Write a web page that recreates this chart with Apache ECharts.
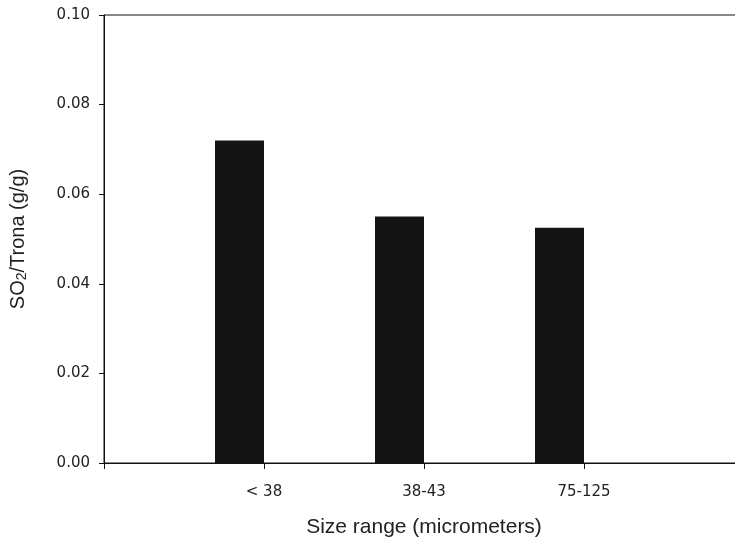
<!DOCTYPE html>
<html>
<head>
<meta charset="utf-8">
<script src="https://cdn.jsdelivr.net/npm/echarts@6/dist/echarts.min.js"></script>
<style>html,body{margin:0;padding:0;background:#fff;}#c{width:735px;height:540px;}</style>
</head>
<body>
<div id="c"></div>
<script>
var categories = ['< 38', '38-43', '75-125'];
var values = [0.072, 0.055, 0.0525];
var yTicks = [0, 0.02, 0.04, 0.06, 0.08, 0.10];

// pad with empty slots at both ends so the category ticks fall where the reference has them
var axisCats = [''].concat(categories).concat(['']);
var barData = ['-'].concat(values).concat(['-']);
var emptyData = axisCats.map(function(){ return '-'; });

var chart = echarts.init(document.getElementById('c'), null, {renderer: 'canvas'});
var font = '"Liberation Sans", Arial, sans-serif';
var tickFont = '"DejaVu Sans", sans-serif';
chart.setOption({
  animation: false,
  backgroundColor: '#fff',
  grid: {left: 104, top: 15, right: -9, bottom: 77, outerBoundsMode: 'none', containLabel: false,
         show: true, borderColor: '#111', borderWidth: 1, backgroundColor: 'transparent'},
  xAxis: {
    type: 'category',
    data: axisCats,
    boundaryGap: false,
    name: 'Size range (micrometers)',
    nameLocation: 'middle',
    nameGap: 54,
    nameTextStyle: {fontFamily: font, fontSize: 21, color: '#222'},
    axisLine: {lineStyle: {color: '#111', width: 1}},
    axisTick: {show: true, length: 6, interval: 0, lineStyle: {color: '#111'}},
    axisLabel: {interval: 0, margin: 22, fontFamily: tickFont, fontSize: 15, color: '#222'},
    splitLine: {show: false}
  },
  yAxis: {
    type: 'value',
    min: yTicks[0],
    max: yTicks[yTicks.length - 1],
    interval: 0.02,
    name: '{a|SO}{s|2}{a|/Trona (g/g)}',
    nameLocation: 'middle',
    nameRotate: 90,
    nameGap: 75,
    nameTextStyle: {
      fontFamily: font, fontSize: 20, color: '#222',
      rich: {
        a: {fontFamily: font, fontSize: 20, color: '#222'},
        s: {fontFamily: font, fontSize: 14, color: '#222', verticalAlign: 'bottom', padding: [8, 0, 0, 0]}
      }
    },
    axisLine: {show: true, lineStyle: {color: '#111', width: 1}},
    axisTick: {show: true, length: 5, lineStyle: {color: '#111'}},
    axisLabel: {margin: 14, fontFamily: tickFont, fontSize: 15, color: '#222', formatter: function(v){ return v.toFixed(2); }},
    splitLine: {show: false}
  },
  series: [
    {type: 'bar', data: barData, barWidth: 49, barGap: '0%', itemStyle: {color: '#141414'}},
    {type: 'bar', data: emptyData, barWidth: 49, barGap: '0%', itemStyle: {color: '#141414'}}
  ]
});
</script>
</body>
</html>
